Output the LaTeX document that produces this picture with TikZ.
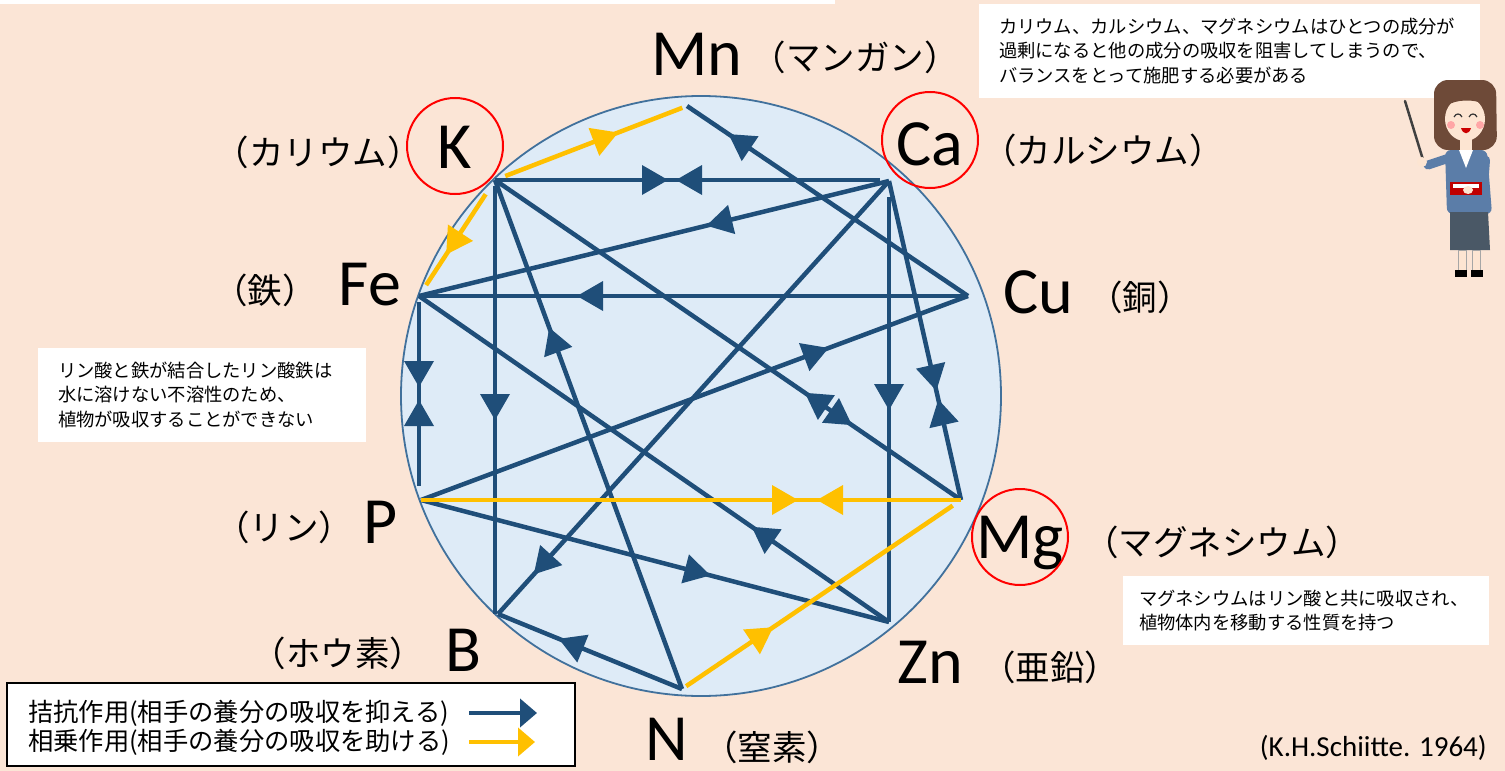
\documentclass[tikz,border=0pt]{standalone}
\usepackage{fontspec}
\setmainfont{Carlito}
\newfontfamily\jpfont{Noto Sans CJK JP}
\usetikzlibrary{decorations.markings,arrows.meta}

\definecolor{paper}{HTML}{FBE5D6}
\definecolor{discfill}{HTML}{DEEBF7}
\definecolor{rimblue}{HTML}{41719C}
\definecolor{antblue}{HTML}{1F4E79}
\definecolor{synyellow}{HTML}{FFC000}
\definecolor{ringred}{HTML}{FF0000}
\definecolor{hairbrown}{HTML}{6E4A38}
\definecolor{skin}{HTML}{FDE5D2}
\definecolor{jacket}{HTML}{5B7DA8}
\definecolor{skirt}{HTML}{4A5866}

\tikzset{
  antag/.style={line width=4.5pt, color=antblue},
  synerg/.style={line width=4.5pt, color=synyellow},
  fwd/.style={postaction={decorate, decoration={markings,
      mark=at position #1 with {\fill (0,0) -- (-26,-15) -- (-26,15) -- cycle;}}}},
  bwd/.style={postaction={decorate, decoration={markings,
      mark=at position #1 with {\fill (0,0) -- (26,-15) -- (26,15) -- cycle;}}}},
  elem/.style={font=\fontsize{66}{66}\selectfont, inner sep=0pt, anchor=base},
  jlabel/.style={font=\jpfont\fontsize{34.5}{34.5}\selectfont, inner sep=0pt},
  ring/.style={circle, draw=ringred, line width=2pt, minimum size=96pt, inner sep=0pt},
  note/.style={fill=white, font=\jpfont\fontsize{18.3}{24.5}\selectfont, align=left, inner ysep=0pt},
}

\begin{document}
\begin{tikzpicture}[x=1pt,y=-1pt]
\useasboundingbox (0,0) rectangle (1505,771);
\fill[paper] (0,0) rectangle (1505,771);
\fill[white] (0,0) rectangle (835,4);

% explanatory note, top right
\node[note, text width=461pt, inner xsep=20pt, minimum height=94pt] (noteTop) at (1229.5,51)
  {カリウム、カルシウム、マグネシウムはひとつの成分が\\過剰になると他の成分の吸収を阻害してしまうので、\\バランスをとって施肥する必要がある};

% the disc
\node[circle, minimum size=600pt, inner sep=0pt, fill=discfill, draw=rimblue, line width=1.8pt] (disc) at (701,396) {};

% points on the disc where the connectors meet
\coordinate (vK)  at (495,180);
\coordinate (vMn) at (687,106);
\coordinate (vCa) at (889,181);
\coordinate (vCu) at (968,296);
\coordinate (vFe) at (419,296);
\coordinate (vP)  at (421,500);
\coordinate (vMg) at (961,500);
\coordinate (vB)  at (498,614);
\coordinate (vZn) at (889,622);
\coordinate (vN)  at (682,689);

% antagonism
\draw[antag, fwd=173pt, bwd=181pt, shorten >=9pt] (vK) -- (vK -| vCa);
\draw[antag, fwd=188pt] (vCa) -- (vFe);
\draw[antag, fwd=391pt] (vCu) -- (vFe);
\draw[antag, fwd=289pt] (vCu) -- (vMn);
\draw[antag, fwd=240pt, shorten <=6pt] (vK) -- (vK |- vB);
\draw[antag, fwd=385pt] (vN) -- (vK);
\draw[antag, bwd=376pt, fwd=433pt] (vK) -- (vMg);
\draw[antag, fwd=91pt, bwd=104pt, shorten <=6pt, shorten >=14pt] (vFe) -- (vFe |- vP);
\draw[antag, fwd=229pt, shorten <=16pt] (vCa) -- (vCa |- vZn);
\draw[antag, fwd=215pt, bwd=224pt] (vCa) -- (vMg);
\draw[antag, fwd=167pt] (vZn) -- (vFe);
\draw[antag, fwd=530pt] (vCa) -- (vB);
\draw[antag, fwd=133pt] (vN) -- (vB);
\draw[antag, fwd=299pt] (vP) -- (vZn);
\draw[antag, fwd=435pt] (vP) -- (vCu);

% synergism
\draw[synerg, fwd=132pt, shorten <=11pt, shorten >=5pt] (vK) -- (vMn);
\draw[synerg, fwd=89pt, shorten <=17pt, shorten >=13pt] (vK) -- (vFe);
\draw[synerg, fwd=377pt, bwd=396pt] (vP) -- (vMg);
\draw[synerg, fwd=110pt, shorten <=5pt, shorten >=10pt] (vN) -- (vMg);

% element symbols
\node[elem] (Mn) at (697,75) {Mn};
\node[elem] (K)  at (455,168) {K};
\node[elem] (Ca) at (930,165) {Ca};
\node[elem] (Fe) at (370,305) {Fe};
\node[elem] (Cu) at (1038,313) {Cu};
\node[elem] (P)  at (381,543) {P};
\node[elem] (Mg) at (1020,558) {Mg};
\node[elem] (B)  at (463,671) {B};
\node[elem] (Zn) at (930,683) {Zn};
\node[elem] (N)  at (667,760) {N};

\node[ring] (ringK)  at (455,146) {};
\node[ring] (ringCa) at (930,140) {};
\node[ring] (ringMg) at (1020,537) {};

% element names
\node[jlabel] (nMn) at (855,57)  {（マンガン）};
\node[jlabel] (nK)  at (318,152) {（カリウム）};
\node[jlabel] (nCa) at (1103,150) {（カルシウム）};
\node[jlabel] (nFe) at (265,290) {（鉄）};
\node[jlabel] (nCu) at (1140,297) {（銅）};
\node[jlabel] (nP)  at (284,527) {（リン）};
\node[jlabel] (nMg) at (1222,542) {（マグネシウム）};
\node[jlabel] (nB)  at (338,653) {（ホウ素）};
\node[jlabel] (nZn) at (1050,667) {（亜鉛）};
\node[jlabel] (nN)  at (772,747) {（窒素）};

% side notes
\node[note, text width=288pt, inner xsep=20pt, minimum height=94pt] (noteFe) at (202,395)
  {リン酸と鉄が結合したリン酸鉄は\\水に溶けない不溶性のため、\\植物が吸収することができない};
\node[note, text width=334pt, inner xsep=16pt, minimum height=69pt] (noteMg) at (1306,610.5)
  {マグネシウムはリン酸と共に吸収され、\\植物体内を移動する性質を持つ};

% legend
\node[draw=black, line width=2pt, fill=white, minimum width=568pt, minimum height=83pt, inner sep=0pt] (legend) at (291,724.5) {};
\node[font=\jpfont\fontsize{25.3}{25.3}\selectfont, anchor=west, inner sep=0pt] (legAnt) at (28,713) {拮抗作用(相手の養分の吸収を抑える)};
\node[font=\jpfont\fontsize{25.3}{25.3}\selectfont, anchor=west, inner sep=0pt] (legSyn) at (28,742) {相乗作用(相手の養分の吸収を助ける)};
\coordinate (legA1) at (469,713);
\coordinate (legA2) at (537,713);
\coordinate (legB1) at (469,742);
\coordinate (legB2) at (535,742);
\draw[antblue, line width=4pt, -{Triangle[length=17pt,width=28pt]}] (legA1) -- (legA2);
\draw[synyellow, line width=4pt, -{Triangle[length=17pt,width=28pt]}] (legB1) -- (legB2);

% source
\node[font=\fontsize{29}{29}\selectfont, anchor=east, inner sep=0pt] (cite) at (1487,748) {(K.H.Schiitte. 1964)};

% teacher with a pointer
\draw[line width=2.5pt, black!75, line cap=round] (1405,101) -- (1424,163);
\fill[hairbrown, rounded corners=14pt] (1434,80) -- (1496,80) -- (1497,150) -- (1434,150) -- cycle;
\fill[skin] (1465,119) ellipse [x radius=20, y radius=22];
\fill[hairbrown] (1443,114) .. controls (1443,86) and (1488,86) .. (1488,114)
  -- (1484,104) .. controls (1474,99) and (1456,99) .. (1446,106) -- cycle;
\draw[line width=1.2pt, black!80] (1454,117) .. controls (1456,113) and (1460,113) .. (1462,117);
\draw[line width=1.2pt, black!80] (1469,117) .. controls (1471,113) and (1475,113) .. (1477,117);
\fill[red!35] (1451,125) circle[radius=4];
\fill[red!35] (1480,125) circle[radius=4];
\fill[red!80!black] (1461,128) .. controls (1463,135) and (1469,135) .. (1471,128) -- cycle;
\fill[skin] (1460,138) rectangle (1472,150);
\fill[jacket, rounded corners=6pt] (1445,150) -- (1487,150) -- (1492,214) -- (1447,214) -- cycle;
\fill[white] (1459,150) -- (1473,150) -- (1466,168) -- cycle;
\draw[jacket, line width=9pt, line cap=round] (1449,158) -- (1428,165);
\fill[skin] (1422,162) circle[radius=5];
\draw[jacket, line width=8pt, line cap=round] (1486,160) -- (1484,186);
\fill[red!75!black] (1450,182) rectangle (1482,195);
\fill[white] (1453,184) rectangle (1479,188);
\fill[skin] (1468,190) ellipse [x radius=5, y radius=4];
\fill[skirt] (1450,212) -- (1488,212) -- (1490,250) -- (1450,250) -- cycle;
\filldraw[fill=skin, draw=black!35, line width=0.6pt] (1458,250) rectangle (1466,271);
\filldraw[fill=skin, draw=black!35, line width=0.6pt] (1472,250) rectangle (1480,271);
\fill[black] (1455,270) rectangle (1467,277);
\fill[black] (1471,270) rectangle (1483,277);
\end{tikzpicture}
\end{document}
